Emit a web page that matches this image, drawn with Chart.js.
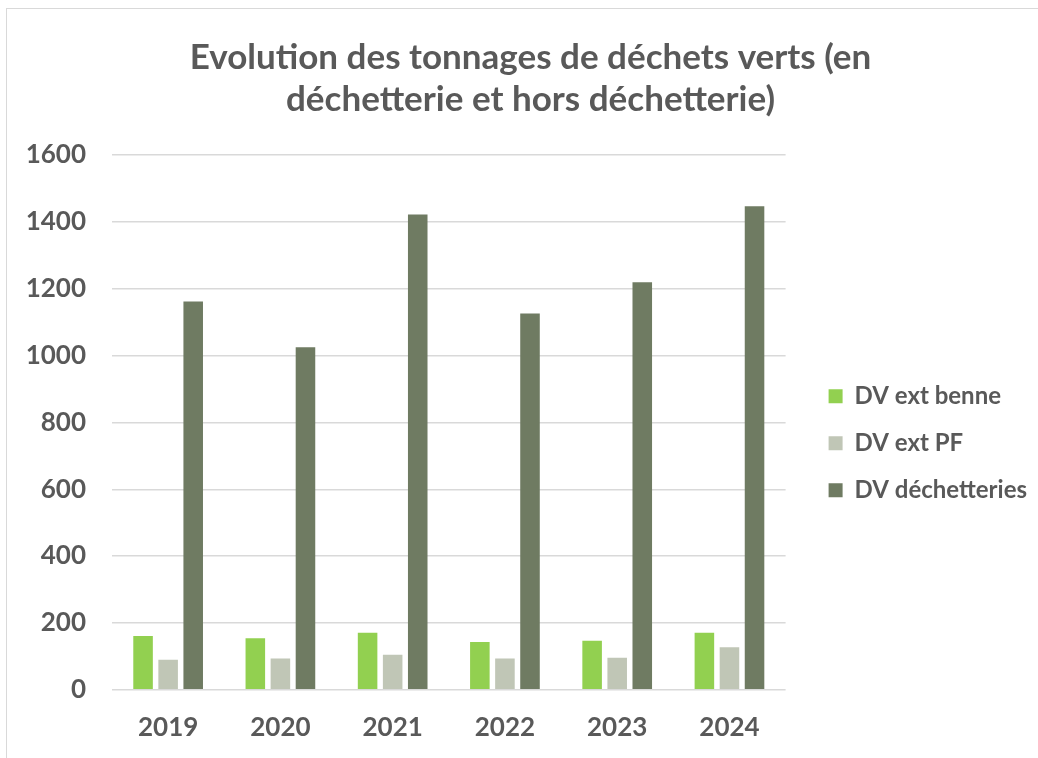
<!DOCTYPE html>
<html>
<head>
<meta charset="utf-8">
<script src="https://cdn.jsdelivr.net/npm/chart.js@4"></script>
<style>
  body { margin: 0; background: #fff; }
  #box { position: absolute; left: 6px; top: 8px; width: 1040px; height: 760px; border: 1px solid #d9d9d9; box-sizing: border-box; }
  #wrap { position: absolute; left: 0; top: 0; width: 1038px; height: 758px; }
</style>
</head>
<body>
<div id="box"></div>
<div id="wrap"><canvas id="myChart"></canvas></div>
<script>
var years = ['2019', '2020', '2021', '2022', '2023', '2024'];
var dvExtBenne = [161, 154, 171, 143, 147, 171];
var dvExtPF = [90, 94, 105, 94, 96, 127];
var dvDechetteries = [1162, 1025, 1422, 1126, 1219, 1447];
var yTicks = [0, 200, 400, 600, 800, 1000, 1200, 1400, 1600];

Chart.defaults.font.family = 'Lato, "Open Sans", sans-serif';
Chart.defaults.font.weight = 'bold';
Chart.defaults.color = '#595959';

// push the legend right, away from the plot, and re-centre the title
var nudge = {
    id: 'nudge',
    afterLayout: function (chart) {
        var lg = chart.legend;
        if (lg) { lg.left += 20; lg.right += 20; }
        var tb = chart.titleBlock;
        if (tb) { tb.left += 22; tb.right += 22; }
    }
};

var ctx = document.getElementById('myChart').getContext('2d');
var chart = new Chart(ctx, {
    type: 'bar',
    data: {
        labels: years,
        datasets: [{
            label: 'DV ext benne',
            backgroundColor: '#92d050',
            data: dvExtBenne
        }, {
            label: 'DV ext PF',
            backgroundColor: '#c0c6b6',
            data: dvExtPF
        }, {
            label: 'DV déchetteries',
            backgroundColor: '#6f7b62',
            data: dvDechetteries
        }]
    },
    plugins: [nudge],
    options: {
        responsive: true,
        maintainAspectRatio: false,
        animation: false,
        layout: { padding: { left: 0, right: 21, top: 37, bottom: 1 } },
        datasets: {
            bar: { categoryPercentage: 0.67, barPercentage: 0.78 }
        },
        plugins: {
            title: {
                display: true,
                text: ['Evolution des tonnages de déchets verts (en', 'déchetterie et hors déchetterie)'],
                font: { size: 35, weight: 'bold' },
                color: '#595959',
                lineHeight: 1.2,
                padding: { top: 0, bottom: 34 }
            },
            legend: {
                position: 'right',
                title: {
                    display: true,
                    text: ' ',
                    font: { size: 12 },
                    padding: { top: 0, bottom: 78 }
                },
                labels: {
                    boxWidth: 14,
                    boxHeight: 14,
                    padding: 23,
                    font: { size: 24, weight: 'bold' },
                    color: '#595959'
                }
            },
            tooltip: { enabled: false }
        },
        scales: {
            x: {
                grid: { display: false },
                border: { display: false },
                ticks: { font: { size: 26, weight: 'bold' }, color: '#595959', padding: 14 }
            },
            y: {
                min: 0,
                max: 1600,
                afterBuildTicks: function (axis) {
                    axis.ticks = yTicks.map(function (v) { return { value: v }; });
                },
                afterFit: function (axis) { axis.width = 112; },
                grid: { color: '#d9d9d9', lineWidth: 1.5, drawTicks: false },
                border: { display: false },
                ticks: {
                    font: { size: 26, weight: 'bold' },
                    color: '#595959',
                    padding: 26,
                    callback: function (v) { return String(v); }
                }
            }
        }
    }
});
</script>
</body>
</html>
